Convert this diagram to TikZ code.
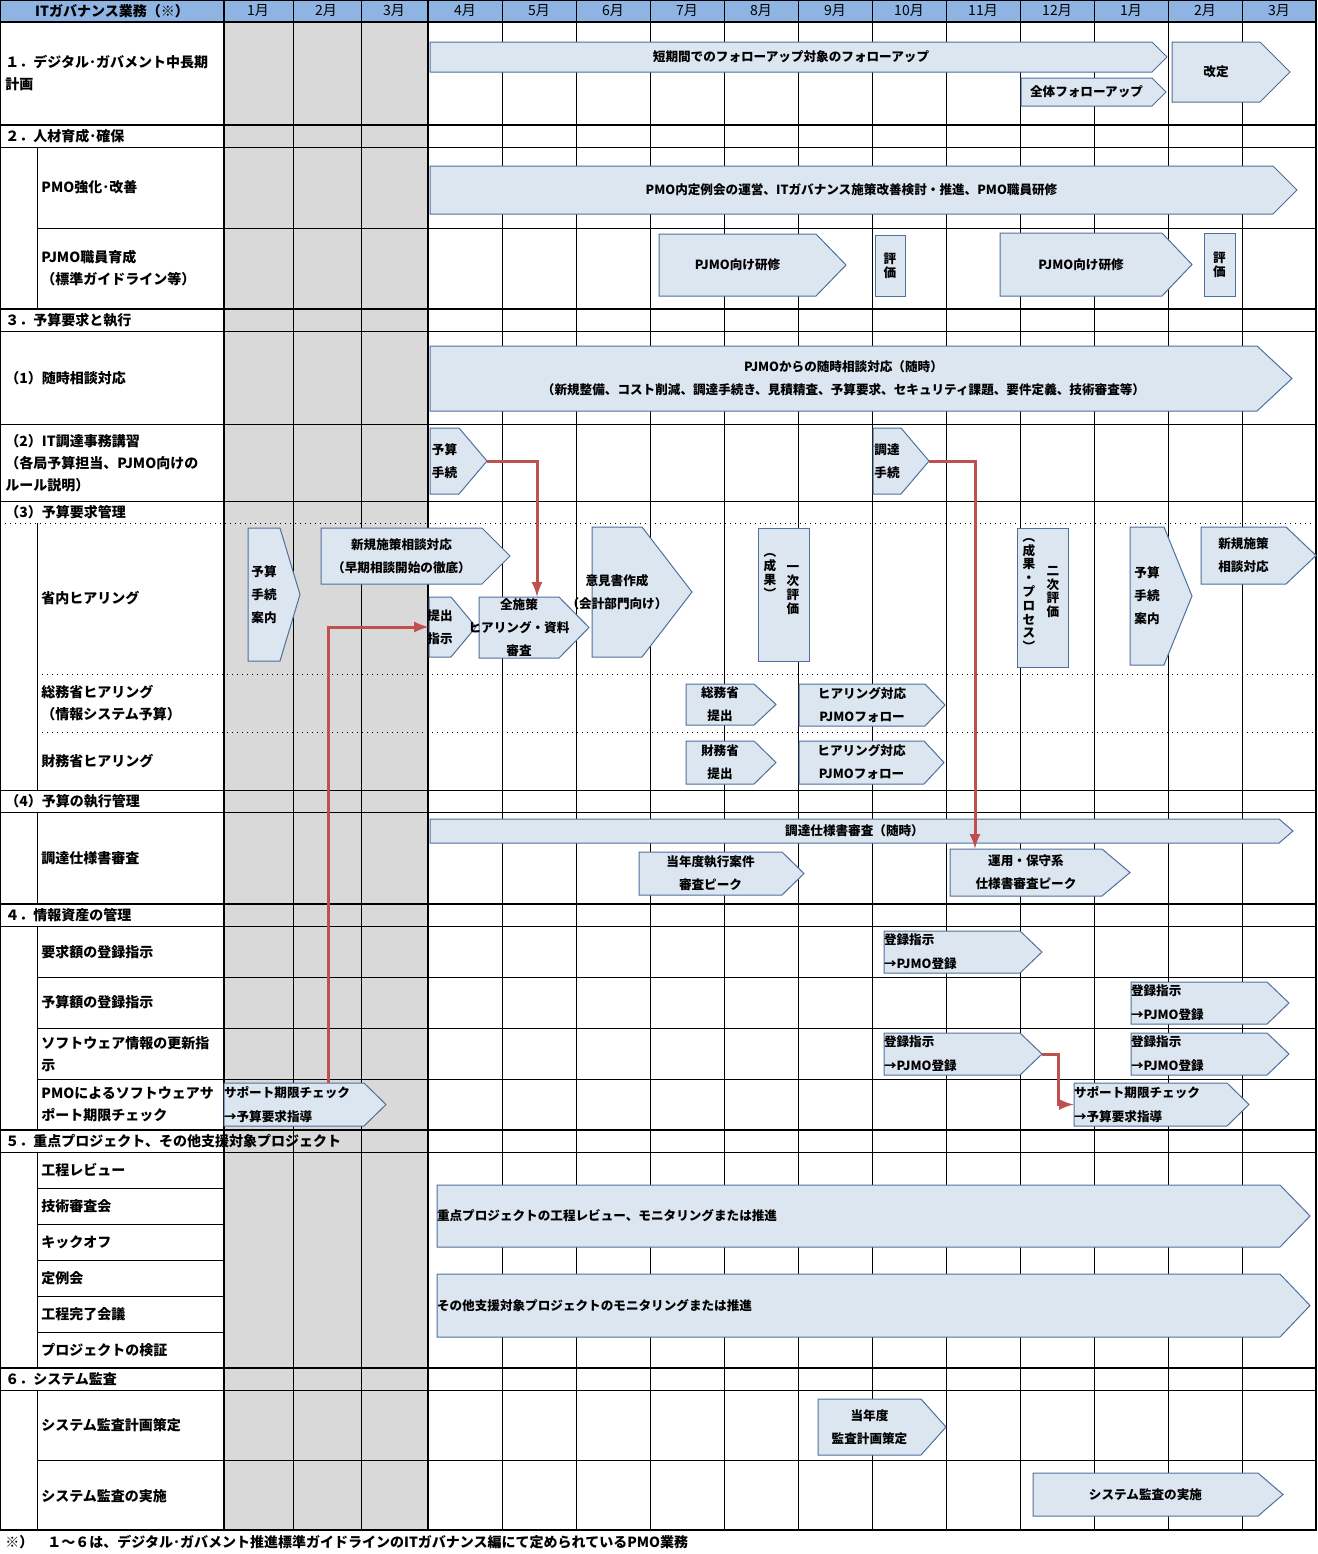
\documentclass[tikz,border=0pt]{standalone}
\usepackage{fontspec}
\setmainfont{Noto Sans CJK JP}
\usetikzlibrary{positioning,fit,calc}

\definecolor{hdrblue}{HTML}{8DB4E2}
\definecolor{gbarfill}{HTML}{DCE6F1}
\definecolor{gbarline}{HTML}{4F6F9C}
\definecolor{redline}{HTML}{C0504D}

\tikzset{
  gbar/.style={draw=gbarline, fill=gbarfill, line width=0.5pt},
  txt/.style={font=\fontsize{6.3}{11.5}\selectfont\bfseries, align=center, inner sep=0pt},
  lbl/.style={font=\fontsize{7}{11}\selectfont\bfseries, align=left, anchor=west, inner sep=0pt},
  vtxt/.style={font=\fontsize{6.3}{6.9}\selectfont\bfseries, align=center, inner sep=0pt},
  thick line/.style={line width=1pt},
  thin line/.style={line width=0.5pt},
  dot line/.style={line width=0.5pt, dotted},
  redarr/.style={draw=redline, line width=1.5pt, ->, >=latex}
}

% pointed bar: [text anchor] name x1 y1 x2 y2 tip text
\newcommand{\gar}[8][center]{%
  \path[gbar] (#3,#4) -- ({#5-#7},#4) -- (#5,{(#4+#6)/2}) -- ({#5-#7},#6) -- (#3,#6) -- cycle;
  \coordinate (#2-a) at (#3,#4);
  \coordinate (#2-b) at ({#5-#7},#6);
  \node[fit=(#2-a)(#2-b), inner sep=0pt] (#2) {};
  \coordinate (#2-tip) at (#5,{(#4+#6)/2});
  \node[txt, anchor=#1] at (#2.#1) {#8};}
% plain box: name x1 y1 x2 y2
\newcommand{\vbx}[5]{%
  \path[gbar] (#2,#3) rectangle (#4,#5);
  \coordinate (#1-a) at (#2,#3);
  \coordinate (#1-b) at (#4,#5);
  \node[fit=(#1-a)(#1-b), inner sep=0pt] (#1) {};}

\begin{document}
\begin{tikzpicture}[x=0.5pt, y=-0.5pt]
  \useasboundingbox (0,0) rectangle (1318,1554);
  % header and shaded months
  \fill[hdrblue] (0,0) rectangle (1316,22);
  \fill[black!15] (224,22) rectangle (428,1530);
  \node[lbl, anchor=center] (hd) at (112,11) {ITガバナンス業務（※）};
  \foreach \m [count=\i] in {1月,2月,3月} {
    \node[font=\fontsize{7}{8}\selectfont, inner sep=0pt] (mh\i) at ({224+68*(\i-0.5)},11) {\m};
  }
  \foreach \m [count=\i] in {4月,5月,6月,7月,8月,9月,10月,11月,12月,1月,2月,3月} {
    \node[font=\fontsize{7}{8}\selectfont, inner sep=0pt] (mk\i) at ({428+74*(\i-0.5)},11) {\m};
  }
  % grid
  \foreach \x in {293,361,502,576,650,724,798,872,946,1020,1094,1168,1242}
    \draw[thin line] (\x,0) -- (\x,1530);
  \draw[thick line] (224,0) -- (224,1530);
  \draw[thick line] (428,0) -- (428,1530);
  \draw[thick line] (0,0) rectangle (1316,1530);
  \foreach \y in {22,125,309,904,1130,1368}
    \draw[thick line] (0,\y) -- (1316,\y);
  \foreach \y in {147,331,424,501,790,812,926,1152,1390}
    \draw[thin line] (0,\y) -- (1316,\y);
  \foreach \y in {228,977,1028,1079,1460}
    \draw[thin line] (37,\y) -- (1316,\y);
  \foreach \y in {1188,1224,1260,1296,1332}
    \draw[thin line] (37,\y) -- (224,\y);
  \draw[dot line] (0,523) -- (1316,523);
  \foreach \y in {674,732}
    \draw[dot line] (37,\y) -- (1316,\y);
  \foreach \a/\b in {147/309,523/790,812/904,926/1130,1152/1368,1390/1530}
    \draw[thin line] (37,\a) -- (37,\b);

  % row labels
  \node[lbl] (l1) at (5,73) {１．デジタル･ガバメント中長期\\計画};
  \node[lbl] (l2) at (5,136) {２．人材育成･確保};
  \node[lbl] (l21) at (41,187) {PMO強化･改善};
  \node[lbl] (l22) at (41,268) {PJMO職員育成\\（標準ガイドライン等）};
  \node[lbl] (l3) at (5,320) {３．予算要求と執行};
  \node[lbl] (l31) at (5,378) {（1）随時相談対応};
  \node[lbl] (l32) at (5,463) {（2）IT調達事務講習\\（各局予算担当、PJMO向けの\\ルール説明）};
  \node[lbl] (l33) at (5,512) {（3）予算要求管理};
  \node[lbl] (l331) at (41,598) {省内ヒアリング};
  \node[lbl] (l332) at (41,703) {総務省ヒアリング\\（情報システム予算）};
  \node[lbl] (l333) at (41,761) {財務省ヒアリング};
  \node[lbl] (l34) at (5,801) {（4）予算の執行管理};
  \node[lbl] (l341) at (41,858) {調達仕様書審査};
  \node[lbl] (l4) at (5,915) {４．情報資産の管理};
  \node[lbl] (l41) at (41,952) {要求額の登録指示};
  \node[lbl] (l42) at (41,1002) {予算額の登録指示};
  \node[lbl] (l43) at (41,1054) {ソフトウェア情報の更新指\\示};
  \node[lbl] (l44) at (41,1104) {PMOによるソフトウェアサ\\ポート期限チェック};
  \node[lbl] (l5) at (5,1141) {５．重点プロジェクト、その他支援対象プロジェクト};
  \node[lbl] (l51) at (41,1170) {工程レビュー};
  \node[lbl] (l52) at (41,1206) {技術審査会};
  \node[lbl] (l53) at (41,1242) {キックオフ};
  \node[lbl] (l54) at (41,1278) {定例会};
  \node[lbl] (l55) at (41,1314) {工程完了会議};
  \node[lbl] (l56) at (41,1350) {プロジェクトの検証};
  \node[lbl] (l6) at (5,1379) {６．システム監査};
  \node[lbl] (l61) at (41,1425) {システム監査計画策定};
  \node[lbl] (l62) at (41,1496) {システム監査の実施};
  \node[lbl] (note) at (5,1542) {※）　１～６は、デジタル･ガバメント推進標準ガイドラインのITガバナンス編にて定められているPMO業務};

  % bars
  \gar{fu}{430}{42}{1167}{72}{15}{短期間でのフォローアップ対象のフォローアップ}
  \gar{rev}{1172}{42}{1290}{102}{30}{改定}
  \gar{allfu}{1021}{78}{1166}{106}{14}{全体フォローアップ}
  \gar{pmo}{430}{166}{1297}{214}{24}{PMO内定例会の運営、ITガバナンス施策改善検討・推進、PMO職員研修}
  \gar{trn1}{659}{234}{846}{296}{30}{PJMO向け研修}
  \vbx{ev1}{875}{235}{905}{296}
  \node[vtxt] at (ev1) {評\\価};
  \gar{trn2}{1000}{233}{1192}{296}{30}{PJMO向け研修}
  \vbx{ev2}{1204}{233}{1235}{296}
  \node[vtxt] at (ev2) {評\\価};
  \gar{cons}{430}{346}{1292}{411}{35}{PJMOからの随時相談対応（随時）\\（新規整備、コスト削減、調達手続き、見積精査、予算要求、セキュリティ課題、要件定義、技術審査等）}
  \gar{yo1}{430}{428}{487}{494}{28}{予算\\手続}
  \gar{cho}{873}{428}{929}{494}{28}{調達\\手続}
  \gar{gd1}{248}{528}{300}{661}{20}{予算\\手続\\案内}
  \gar{new1}{321}{528}{510}{584}{28}{新規施策相談対応\\（早期相談開始の徹底）}
  \gar{tei}{429}{597}{476}{657}{25}{提出\\指示}
  \gar{allh}{479}{597}{589}{658}{30}{全施策\\ヒアリング・資料\\審査}
  \gar{opn}{592}{527}{692}{657}{50}{意見書作成\\（会計部門向け）}
  \vbx{fst}{758}{528}{809}{661}
  \node[vtxt] at (793,590) {一\\次\\評\\価};
  \node[vtxt] at (770,576) {︵\\成\\果\\︶};
  \vbx{snd}{1017}{528}{1068}{667}
  \node[vtxt] at (1053,592) {二\\次\\評\\価};
  \node[vtxt] at (1029,595) {︵\\成\\果\\・\\プ\\ロ\\セ\\ス\\︶};
  \gar{gd2}{1130}{527}{1192}{665}{28}{予算\\手続\\案内}
  \gar{new2}{1201}{527}{1316}{584}{30}{新規施策\\相談対応}
  \gar{som}{686}{684}{776}{725}{22}{総務省\\提出}
  \gar{hs1}{799}{684}{945}{726}{20}{ヒアリング対応\\PJMOフォロー}
  \gar{zai}{686}{741}{776}{784}{22}{財務省\\提出}
  \gar{hs2}{799}{741}{944}{784}{20}{ヒアリング対応\\PJMOフォロー}
  \gar{spec}{430}{819}{1293}{843}{14}{調達仕様書審査（随時）}
  \gar{peak}{639}{852}{804}{895}{22}{当年度執行案件\\審査ピーク}
  \gar{ops}{950}{849}{1130}{896}{28}{運用・保守系\\仕様書審査ピーク}
  \gar[west]{reg1}{884}{931}{1042}{973}{22}{\shortstack[l]{登録指示\\[3pt]→PJMO登録}}
  \gar[west]{reg2}{1131}{982}{1289}{1024}{22}{\shortstack[l]{登録指示\\[3pt]→PJMO登録}}
  \gar[west]{reg3}{884}{1033}{1042}{1075}{22}{\shortstack[l]{登録指示\\[3pt]→PJMO登録}}
  \gar[west]{reg4}{1131}{1033}{1289}{1075}{22}{\shortstack[l]{登録指示\\[3pt]→PJMO登録}}
  \gar[west]{sup1}{224}{1083}{386}{1126}{22}{\shortstack[l]{サポート期限チェック\\[3pt]→予算要求指導}}
  \gar[west]{sup2}{1074}{1083}{1249}{1126}{22}{\shortstack[l]{サポート期限チェック\\[3pt]→予算要求指導}}
  \gar[west]{key}{437}{1185}{1310}{1247}{30}{重点プロジェクトの工程レビュー、モニタリングまたは推進}
  \gar[west]{oth}{437}{1274}{1310}{1337}{30}{その他支援対象プロジェクトのモニタリングまたは推進}
  \gar{aud1}{818}{1399}{946}{1455}{25}{当年度\\監査計画策定}
  \gar{aud2}{1033}{1473}{1283}{1516}{25}{システム監査の実施}

  % red connectors
  \draw[redarr] (yo1-tip) -| ([xshift=9pt]allh.north);
  \draw[redarr] (cho-tip) -| ([xshift=-25.5pt]ops.north);
  \draw[redarr] ([xshift=17pt]sup1.north) |- (tei.west);
  \draw[redarr] (reg3-tip) -- ++(16,0) |- (sup2.west);
\end{tikzpicture}
\end{document}
